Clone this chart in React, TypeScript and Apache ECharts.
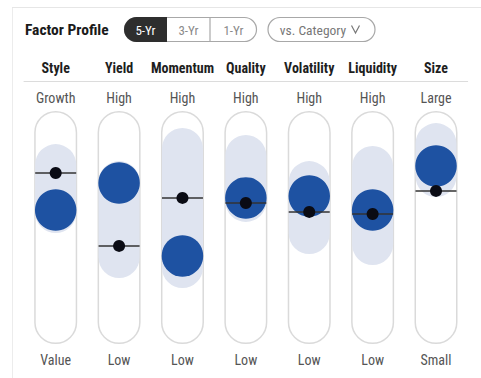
import React, { useEffect, useRef } from "react";
import * as echarts from "echarts";

const factors = ["Style", "Yield", "Momentum", "Quality", "Volatility", "Liquidity", "Size"];
const highLabels = ["Growth", "High", "High", "High", "High", "High", "Large"];
const lowLabels = ["Value", "Low", "Low", "Low", "Low", "Low", "Small"];
const fundValues = [57.5, 69.1, 37.8, 62.7, 63.5, 57.5, 76.4];
const categoryValues = [73.4, 42.1, 62.7, 60.5, 56.7, 55.8, 65.7];
const rangeHigh = [85.8, 78.5, 92.7, 89.7, 78.5, 85.0, 94.8];
const rangeLow = [47.6, 28.3, 24.0, 52.4, 38.6, 33.9, 63.1];
const periods = ["5-Yr", "3-Yr", "1-Yr"];
const compareLabel = "vs. Category";
const title = "Factor Profile";

const FONT = "'Liberation Sans Narrow', 'Roboto Condensed', 'DejaVu Sans Condensed', 'Liberation Sans', sans-serif";

export default function App() {
  const ref = useRef<HTMLDivElement>(null);
  useEffect(() => {
    if (!ref.current) return;
    const chart = echarts.init(ref.current, undefined, { renderer: "svg" });
    const capsule = factors.map(() => 100);
    const bandBase = rangeLow.slice();
    const bandSpan = rangeHigh.map((h, i) => +(h - rangeLow[i]).toFixed(2));
    const segX = [124, 167, 210, 257];
    const graphic: any[] = [
      { type: "line", shape: { x1: 12.5, y1: 7, x2: 12.5, y2: 378 }, style: { stroke: "#ececec", lineWidth: 1 } },
      { type: "line", shape: { x1: 12, y1: 7.5, x2: 481, y2: 7.5 }, style: { stroke: "#e6e6e6", lineWidth: 1 } },
      { type: "text", x: 25, y: 30, style: { text: title, font: `bold 15.5px ${FONT}`, fill: "#1a1a1a", textVerticalAlign: "middle", textAlign: "left" } },
      { type: "rect", shape: { x: 124.5, y: 17.5, width: 132, height: 24, r: 12 }, style: { fill: "#fff", stroke: "#a8a8a8", lineWidth: 1.2 } },
      { type: "rect", shape: { x: 124, y: 17, width: 43, height: 25, r: [12.5, 0, 0, 12.5] }, style: { fill: "#2e2e2e" } },
      { type: "line", shape: { x1: 210, y1: 17.5, x2: 210, y2: 41.5 }, style: { stroke: "#a8a8a8", lineWidth: 1.2 } },
      { type: "rect", shape: { x: 268, y: 17.5, width: 107, height: 24, r: 12 }, style: { fill: "#fff", stroke: "#a8a8a8", lineWidth: 1.2 } },
      { type: "text", x: 313, y: 30, style: { text: compareLabel, font: `13.5px ${FONT}`, fill: "#777", textAlign: "center", textVerticalAlign: "middle" } },
      { type: "polyline", shape: { points: [[351.5, 25.5], [355.5, 33], [359.5, 25.5]] }, style: { stroke: "#777", lineWidth: 1.2, fill: null } },
    ];
    periods.forEach((p, i) => {
      graphic.push({
        type: "text",
        x: (segX[i] + segX[i + 1]) / 2,
        y: 30,
        style: { text: p, font: `13px ${FONT}`, fill: i === 0 ? "#fff" : "#8a8a8a", textAlign: "center", textVerticalAlign: "middle" },
      });
    });

    const gridPos = { left: 24, right: 13.3, top: 111, bottom: 34 };

    chart.setOption({
      animation: false,
      textStyle: { fontFamily: FONT },
      grid: [gridPos, gridPos],
      xAxis: [
        {
          type: "category", data: factors, position: "top", offset: 30, gridIndex: 0,
          axisLine: { show: true, onZero: false, lineStyle: { color: "#dcdcdc", width: 1 } },
          axisTick: { show: false },
          axisLabel: { interval: 0, fontWeight: "bold", fontSize: 14, color: "#1e1e1e", margin: 6, fontFamily: FONT },
        },
        {
          type: "category", data: highLabels, position: "top", offset: 0, gridIndex: 0,
          axisLine: { show: false, onZero: false }, axisTick: { show: false },
          axisLabel: { interval: 0, fontSize: 14, color: "#555", margin: 6, fontFamily: FONT },
        },
        {
          type: "category", data: lowLabels, position: "bottom", offset: 0, gridIndex: 0,
          axisLine: { show: false, onZero: false }, axisTick: { show: false },
          axisLabel: { interval: 0, fontSize: 14, color: "#555", margin: 9, fontFamily: FONT },
        },
        {
          type: "category", data: factors, gridIndex: 1, show: false,
        },
      ],
      yAxis: [
        { type: "value", min: 0, max: 100, show: false, gridIndex: 0 },
        { type: "value", min: 0, max: 100, show: false, gridIndex: 1 },
      ],
      graphic,
      series: [
        {
          type: "bar", data: capsule, barWidth: 43, silent: true, xAxisIndex: 0, yAxisIndex: 0,
          itemStyle: { color: "#fff", borderColor: "#dadada", borderWidth: 1.5, borderRadius: 21.5 },
        },
        {
          type: "bar", data: bandBase, stack: "band", barWidth: 41, silent: true, xAxisIndex: 3, yAxisIndex: 1,
          itemStyle: { color: "rgba(0,0,0,0)" },
        },
        {
          type: "bar", data: bandSpan, stack: "band", barWidth: 41, silent: true, xAxisIndex: 3, yAxisIndex: 1,
          itemStyle: { color: "#dfe4f0", borderRadius: 20.5 },
        },
        {
          type: "scatter", data: fundValues, symbol: "circle", symbolSize: 41.5, silent: true, xAxisIndex: 0, yAxisIndex: 0,
          itemStyle: { color: "#1e52a2", opacity: 1 },
        },
        {
          type: "scatter", data: categoryValues, symbol: "rect", symbolSize: [41, 1.5], silent: true, xAxisIndex: 0, yAxisIndex: 0,
          itemStyle: { color: "#333", opacity: 1 },
        },
        {
          type: "scatter", data: categoryValues, symbol: "circle", symbolSize: 12, silent: true, xAxisIndex: 0, yAxisIndex: 0,
          itemStyle: { color: "#0a0b14", opacity: 1 },
        },
      ],
    });
    return () => chart.dispose();
  }, []);
  return <div ref={ref} style={{ position: "fixed", left: 0, top: 0, width: 481, height: 378, background: "#fff" }} />;
}
